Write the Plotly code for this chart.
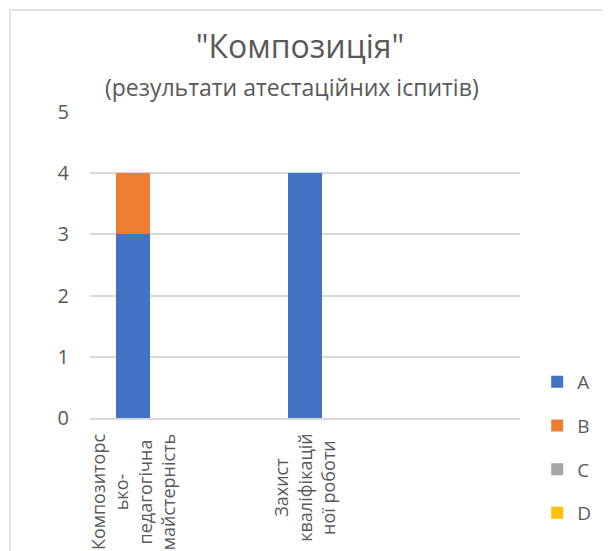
import plotly.graph_objects as go

categories = [
    "Композиторсько-педагогічна майстерність",
    "",
    "Захист кваліфікаційної роботи",
    "",
    "",
]
category_labels = [
    "Композиторс<br>ько-<br>педагогічна<br>майстерність",
    "",
    "Захист<br>кваліфікацій<br>ної роботи",
    "",
    "",
]
series_names = ["A", "B", "C", "D"]
series_values = {
    "A": [3, None, 4, None, None],
    "B": [1, None, 0, None, None],
    "C": [0, None, 0, None, None],
    "D": [0, None, 0, None, None],
}
series_colors = {"A": "#4472C4", "B": "#ED7D31", "C": "#A5A5A5", "D": "#FFC000"}
y_ticks = [0, 1, 2, 3, 4, 5]

FONT = "Open Sans"
GREY = "#595959"

x_pos = list(range(len(categories)))

fig = go.Figure()
for name in series_names:
    fig.add_trace(go.Bar(
        x=x_pos,
        y=series_values[name],
        name=name,
        marker=dict(color=series_colors[name], line=dict(width=0)),
        width=0.4,
        legendgroup=name,
        hovertext=categories,
    ))

# category labels, rotated and centred like the original
for i, label in zip(x_pos, category_labels):
    if label:
        fig.add_annotation(
            x=i, xref="x", y=-0.045, yref="paper",
            text=label, textangle=-90, showarrow=False,
            xanchor="center", yanchor="top", align="center",
            font=dict(family=FONT, size=18, color=GREY),
        )

fig.add_annotation(
    x=0.47, xref="paper", y=1.082, yref="paper",
    text="(результати атестаційних іспитів)", showarrow=False,
    xanchor="center", yanchor="middle",
    font=dict(family=FONT, size=23, color=GREY),
)

# chart border
fig.add_shape(
    type="rect", xref="paper", yref="paper",
    x0=-0.186, x1=1.25, y0=-0.5, y1=1.333,
    line=dict(color="#D9D9D9", width=1.5), fillcolor="rgba(0,0,0,0)",
    layer="below",
)

# the page adds an 8px body margin, so margins are shifted by that amount
fig.update_layout(
    width=611,
    height=551,
    barmode="stack",
    paper_bgcolor="white",
    plot_bgcolor="white",
    margin=dict(l=82, r=99, t=104, b=141),
    title=dict(
        text='"Композиція"',
        x=(300 - 8) / 611, xanchor="center",
        y=1 - 39 / 551, yanchor="middle", yref="container",
        font=dict(family=FONT, size=32, color=GREY),
    ),
    font=dict(family=FONT, color=GREY),
    xaxis=dict(
        range=[-0.5, len(categories) - 0.5],
        tickvals=x_pos,
        ticktext=["" for _ in x_pos],
        showgrid=False,
        showline=True,
        linecolor="#D9D9D9",
        linewidth=1.5,
        zeroline=False,
        fixedrange=True,
    ),
    yaxis=dict(
        range=[0, 5],
        tickvals=y_ticks,
        showgrid=True,
        gridcolor="#D9D9D9",
        gridwidth=1.5,
        zeroline=False,
        showline=False,
        ticklabelstandoff=20,
        tickfont=dict(family=FONT, size=20, color=GREY),
    ),
    legend=dict(
        x=1.04, xanchor="left",
        y=0.18, yanchor="top",
        font=dict(family=FONT, size=19, color=GREY),
        tracegroupgap=16,
        bgcolor="rgba(0,0,0,0)",
    ),
    showlegend=True,
)

fig.write_html("out.html")
